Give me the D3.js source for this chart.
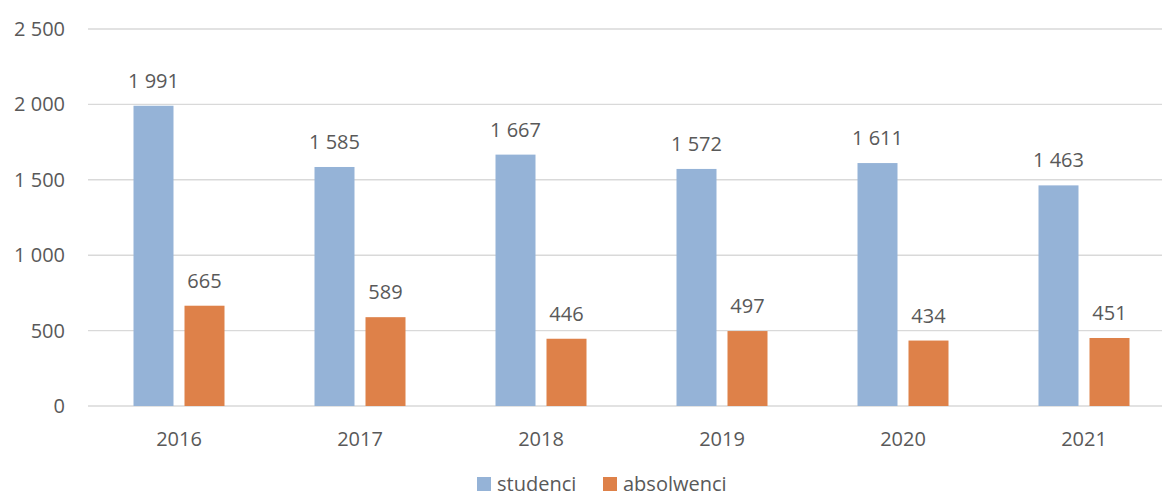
<!DOCTYPE html>
<html>
<head>
<meta charset="utf-8">
<script src="https://cdn.jsdelivr.net/npm/d3@7"></script>
<style>
  body { margin: 0; background: #fff; }
  svg text { font-family: "Open Sans", sans-serif; fill: #595959; }
</style>
</head>
<body>
<svg id="chart"></svg>
<script>
const years = ["2016", "2017", "2018", "2019", "2020", "2021"]
const series = ["studenci", "absolwenci"]
const studenci = [1991, 1585, 1667, 1572, 1611, 1463]
const absolwenci = [665, 589, 446, 497, 434, 451]
const yTicks = [0, 500, 1000, 1500, 2000, 2500]
const colors = ["#95B3D7", "#DE8149"]

const w = 1162, h = 497

const fmt = v => d3.format(",")(v).replace(/,/g, " ")

const svg = d3.select("#chart")
  .attr("width", w)
  .attr("height", h)

let x = d3.scaleBand()
  .domain(years)
  .range([88.5, 1174.5])

let xs = d3.scaleBand()
  .domain(series)
  .range([-45.5, 45.5])
  .paddingInner(11 / 51)

let y = d3.scaleLinear()
  .domain([0, 2500])
  .range([406, 29])

let color = d3.scaleOrdinal().domain(series).range(colors)

// grid
svg.append("g")
  .selectAll("line")
  .data(yTicks)
  .enter().append("line")
  .attr("x1", 88)
  .attr("x2", w)
  .attr("y1", d => y(d))
  .attr("y2", d => y(d))
  .attr("stroke", "#D9D9D9")
  .attr("stroke-width", 1.4)

svg.append("g")
  .selectAll("text")
  .data(yTicks)
  .enter().append("text")
  .attr("x", 65)
  .attr("y", d => y(d))
  .attr("dy", "0.35em")
  .attr("text-anchor", "end")
  .style("font-size", "20px")
  .text(fmt)

// bars
let rows = []
years.forEach((yr, i) => {
  rows.push({ year: yr, key: "studenci", value: studenci[i] })
  rows.push({ year: yr, key: "absolwenci", value: absolwenci[i] })
})

let bars = svg.append("g")
  .selectAll("g")
  .data(rows)
  .enter().append("g")
  .attr("transform", d => "translate(" + (x(d.year) + x.bandwidth() / 2 + xs(d.key)) + ",0)")

bars.append("rect")
  .attr("x", 0)
  .attr("width", xs.bandwidth())
  .attr("y", d => y(d.value))
  .attr("height", d => y(0) - y(d.value))
  .attr("fill", d => color(d.key))

bars.append("text")
  .attr("x", xs.bandwidth() / 2)
  .attr("y", d => y(d.value) - 18)
  .attr("text-anchor", "middle")
  .style("font-size", "20px")
  .text(d => fmt(d.value))

// x labels
svg.append("g")
  .selectAll("text")
  .data(years)
  .enter().append("text")
  .attr("x", d => x(d) + x.bandwidth() / 2)
  .attr("y", 446)
  .attr("text-anchor", "middle")
  .style("font-size", "20px")
  .text(d => d)

// legend (kept just inside the bottom edge)
let legendPos = [477, 603]
let legend = svg.append("g")
  .selectAll("g")
  .data(series)
  .enter().append("g")
  .attr("transform", (d, i) => "translate(" + legendPos[i] + ",477)")

legend.append("rect")
  .attr("width", 14)
  .attr("height", 14)
  .attr("fill", d => color(d))

legend.append("text")
  .attr("x", 20)
  .attr("y", 14)
  .style("font-size", "20px")
  .text(d => d)
</script>
</body>
</html>
